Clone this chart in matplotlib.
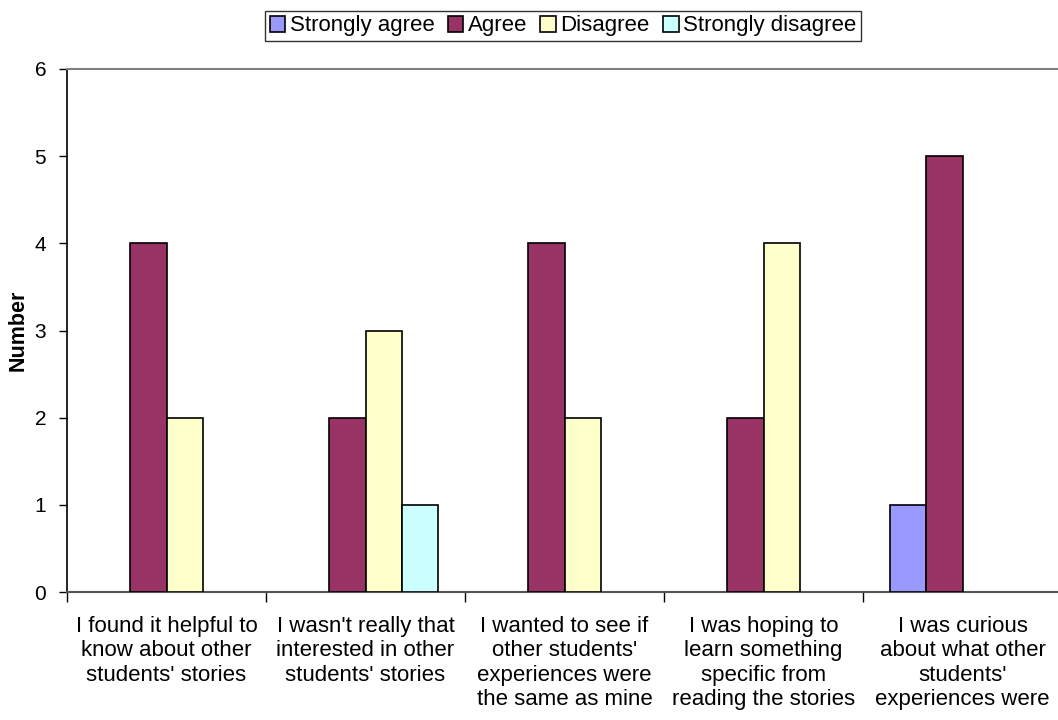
import numpy as np
import matplotlib.pyplot as plt
from matplotlib.ticker import FixedLocator

plt.rcParams['font.family'] = ['Liberation Sans', 'DejaVu Sans']

questions = [
    "I found it helpful to\nknow about other\nstudents' stories",
    "I wasn't really that\ninterested in other\nstudents' stories",
    "I wanted to see if\nother students'\nexperiences were\nthe same as mine",
    "I was hoping to\nlearn something\nspecific from\nreading the stories",
    "I was curious\nabout what other\nstudents'\nexperiences were",
]
series_names = ["Strongly agree", "Agree", "Disagree", "Strongly disagree"]
strongly_agree = [0, 0, 0, 0, 1]
agree = [4, 2, 4, 2, 5]
disagree = [2, 3, 2, 4, 0]
strongly_disagree = [0, 1, 0, 0, 0]
series_values = [strongly_agree, agree, disagree, strongly_disagree]
colors = ["#9999FF", "#993366", "#FFFFCC", "#CCFFFF"]

fig = plt.figure(figsize=(10.58, 7.2), dpi=100)
ax = fig.add_axes([67 / 1058, 128 / 720, 995 / 1058, 523 / 720])

x = np.arange(len(questions))
n = len(series_names)
width = 1 / (n + 1.5)  # Excel-style 150% gap
handles = []
for i, (name, vals, c) in enumerate(zip(series_names, series_values, colors)):
    offs = (i - (n - 1) / 2) * width
    vals = np.array(vals, dtype=float)
    shown = vals > 0
    ax.bar(x[shown] + offs, vals[shown], width=width, color=c,
           edgecolor="black", linewidth=1.2, zorder=3)
    handles.append(plt.Rectangle((0, 0), 1, 1, facecolor=c,
                                 edgecolor="black", linewidth=1.2))

ax.set_xlim(-0.5, len(questions) - 0.5)
ax.set_ylim(0, 6)
ax.set_yticks(range(0, 7))
ax.tick_params(axis="y", labelsize=15, length=6, direction="out", width=1, pad=9)

ax.set_xticks(x)
ax.set_xticklabels(questions, fontsize=16, linespacing=1.22)
ax.tick_params(axis="x", which="major", length=0, pad=17)
ax.xaxis.set_minor_locator(FixedLocator(np.arange(-0.5, len(questions), 1)))
ax.tick_params(axis="x", which="minor", length=7, direction="out", width=1)

ax.spines["top"].set_color("#808080")
ax.spines["top"].set_linewidth(1.5)
ax.spines["right"].set_visible(False)
ax.spines["left"].set_linewidth(1.2)
ax.spines["bottom"].set_color("#555555")
ax.spines["bottom"].set_linewidth(1.5)

ax.set_ylabel("Number", fontsize=15.5, fontweight="bold")
ax.yaxis.set_label_coords(-0.039, 0.5)

fig.legend(handles, series_names, loc="center", ncol=4,
           bbox_to_anchor=(563 / 1058, 1 - 26 / 720), fontsize=16,
           frameon=True, fancybox=False, edgecolor="black",
           handlelength=0.7, handleheight=0.7, handletextpad=0.2,
           columnspacing=0.6, borderpad=0.2, borderaxespad=0)

fig.savefig("out.png", dpi=100)
